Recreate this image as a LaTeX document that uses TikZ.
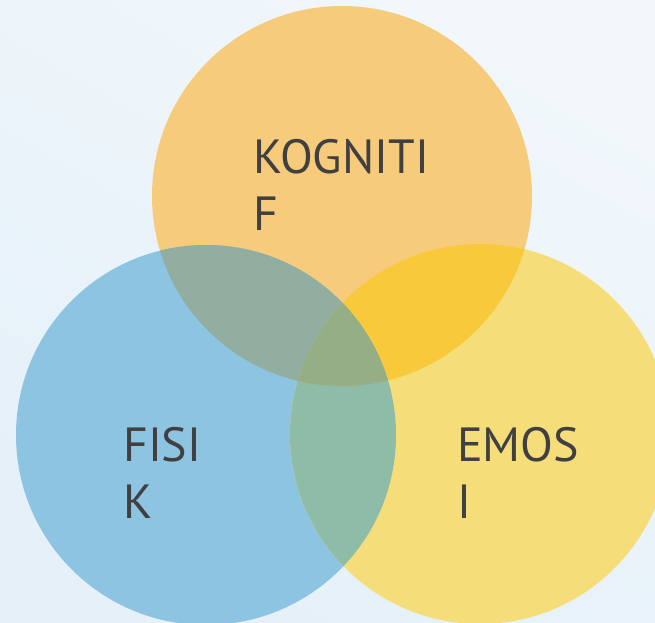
\documentclass[tikz,border=0pt]{standalone}
\usepackage{fontspec}
\setmainfont{PT Sans}
\definecolor{kogfill}{HTML}{F7CB7C}
\definecolor{fisfill}{HTML}{8DC4E2}
\definecolor{emofill}{HTML}{F5DE7A}
\definecolor{kogfis}{HTML}{92AEA0}
\definecolor{kogemo}{HTML}{F8C93B}
\definecolor{fisemo}{HTML}{8EBCA7}
\definecolor{allthree}{HTML}{95AE86}
\definecolor{vtext}{HTML}{404040}
\definecolor{bgtop}{HTML}{F1F7FB}
\definecolor{bgbottom}{HTML}{E5F0F9}
\begin{document}
\begin{tikzpicture}[x=1pt,y=-1pt]
	\tikzstyle{venntext} = [anchor=base west, inner sep=0, align=left, text=vtext,
	font=\fontsize{48}{57}\selectfont]
	\shade [top color=bgtop, bottom color=bgbottom, shading angle=-30] (0,0) rectangle (655,622);
\useasboundingbox (0,0) rectangle (655,622);
\coordinate (kog) at (342,196);
\coordinate (fis) at (206,435);
\coordinate (emo) at (480,434);
\fill [kogfill] (kog) circle (190pt);
\fill [fisfill] (fis) circle (190pt);
\fill [emofill] (emo) circle (190pt);
\begin{scope}
\clip (kog) circle (190pt);
\fill [kogfis] (fis) circle (190pt);
\fill [kogemo] (emo) circle (190pt);
\end{scope}
\begin{scope}
\clip (fis) circle (190pt);
\fill [fisemo] (emo) circle (190pt);
\clip (kog) circle (190pt);
\fill [allthree] (emo) circle (190pt);
\end{scope}

\node [venntext] (tkog) at (253,230) {KOGNITI\\F};
\node [venntext] (tfis) at (123,518) {FISI\\K};
\node [venntext] (temo) at (457,518) {EMOS\\I};
\end{tikzpicture}
\end{document}
